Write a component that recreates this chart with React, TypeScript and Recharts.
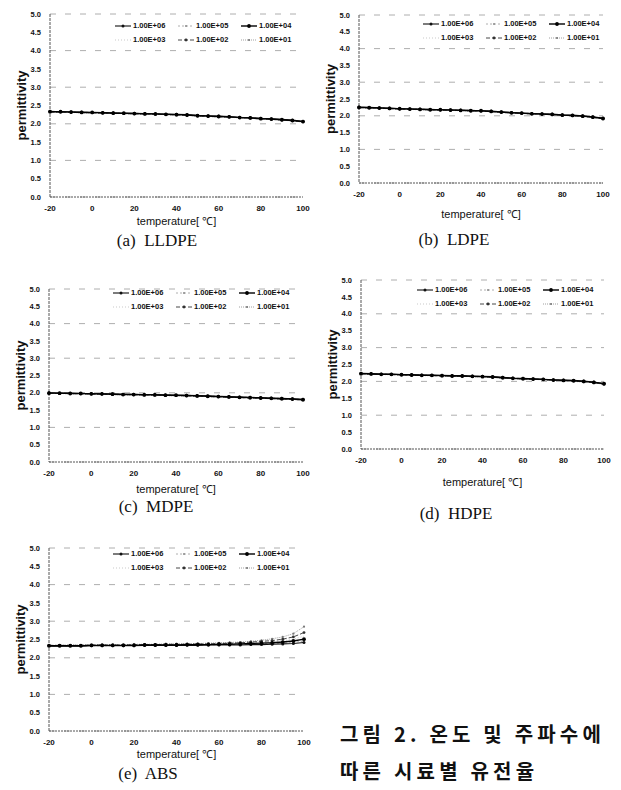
import React from "react";
import { CartesianGrid, Legend, Line, LineChart, XAxis, YAxis } from "recharts";

const temps = [-20, -15, -10, -5, 0, 5, 10, 15, 20, 25, 30, 35, 40, 45, 50, 55, 60, 65, 70, 75, 80, 85, 90, 95, 100];
const xTicks = [-20, 0, 20, 40, 60, 80, 100];
const yTicks = [0, 0.5, 1, 1.5, 2, 2.5, 3, 3.5, 4, 4.5, 5];
const freqLabels = ["1.00E+06", "1.00E+05", "1.00E+04", "1.00E+03", "1.00E+02", "1.00E+01"];

// (a) LLDPE
const lldpeE6 = [2.34, 2.33, 2.33, 2.32, 2.31, 2.31, 2.3, 2.29, 2.29, 2.28, 2.27, 2.26, 2.26, 2.25, 2.23, 2.22, 2.21, 2.2, 2.18, 2.17, 2.15, 2.14, 2.12, 2.1, 2.07];
const lldpeE5 = [2.33, 2.33, 2.32, 2.32, 2.31, 2.3, 2.3, 2.29, 2.28, 2.28, 2.27, 2.26, 2.25, 2.24, 2.23, 2.21, 2.2, 2.19, 2.18, 2.16, 2.15, 2.13, 2.11, 2.09, 2.07];
const lldpeE4 = [2.33, 2.33, 2.32, 2.31, 2.31, 2.3, 2.29, 2.29, 2.28, 2.27, 2.27, 2.26, 2.25, 2.24, 2.22, 2.21, 2.2, 2.19, 2.17, 2.16, 2.14, 2.13, 2.11, 2.09, 2.06];
const lldpeE3 = [2.33, 2.32, 2.32, 2.31, 2.3, 2.3, 2.29, 2.28, 2.28, 2.27, 2.26, 2.25, 2.25, 2.24, 2.22, 2.21, 2.2, 2.18, 2.17, 2.16, 2.14, 2.12, 2.1, 2.08, 2.06];
const lldpeE2 = [2.32, 2.32, 2.31, 2.31, 2.3, 2.29, 2.29, 2.28, 2.27, 2.27, 2.26, 2.25, 2.24, 2.23, 2.22, 2.2, 2.19, 2.18, 2.17, 2.15, 2.14, 2.12, 2.1, 2.08, 2.05];
const lldpeE1 = [2.32, 2.32, 2.31, 2.3, 2.3, 2.29, 2.28, 2.28, 2.27, 2.26, 2.26, 2.25, 2.24, 2.23, 2.21, 2.2, 2.19, 2.18, 2.16, 2.15, 2.13, 2.12, 2.1, 2.08, 2.05];

// (b) LDPE
const ldpeE6 = [2.26, 2.25, 2.24, 2.23, 2.21, 2.21, 2.2, 2.19, 2.18, 2.18, 2.17, 2.16, 2.15, 2.14, 2.12, 2.1, 2.08, 2.07, 2.06, 2.05, 2.03, 2.02, 2.0, 1.97, 1.93];
const ldpeE5 = [2.25, 2.25, 2.24, 2.22, 2.21, 2.2, 2.2, 2.19, 2.18, 2.17, 2.17, 2.16, 2.15, 2.14, 2.11, 2.1, 2.08, 2.07, 2.06, 2.04, 2.03, 2.01, 1.99, 1.96, 1.93];
const ldpeE4 = [2.25, 2.24, 2.23, 2.22, 2.21, 2.2, 2.19, 2.18, 2.18, 2.17, 2.16, 2.15, 2.15, 2.13, 2.11, 2.09, 2.08, 2.06, 2.05, 2.04, 2.02, 2.01, 1.99, 1.96, 1.92];
const ldpeE3 = [2.25, 2.24, 2.23, 2.22, 2.2, 2.2, 2.19, 2.18, 2.17, 2.17, 2.16, 2.15, 2.14, 2.13, 2.11, 2.09, 2.07, 2.06, 2.05, 2.04, 2.02, 2.0, 1.98, 1.95, 1.92];
const ldpeE2 = [2.24, 2.24, 2.23, 2.21, 2.2, 2.19, 2.19, 2.18, 2.17, 2.16, 2.16, 2.15, 2.14, 2.13, 2.1, 2.09, 2.07, 2.06, 2.05, 2.03, 2.02, 2.0, 1.98, 1.95, 1.91];
const ldpeE1 = [2.24, 2.23, 2.22, 2.21, 2.2, 2.19, 2.18, 2.17, 2.17, 2.16, 2.15, 2.14, 2.14, 2.12, 2.1, 2.08, 2.07, 2.05, 2.04, 2.03, 2.01, 2.0, 1.98, 1.95, 1.91];

// (c) MDPE
const mdpeE6 = [2.0, 1.99, 1.99, 1.98, 1.98, 1.97, 1.97, 1.96, 1.96, 1.95, 1.95, 1.94, 1.93, 1.93, 1.92, 1.91, 1.9, 1.89, 1.88, 1.87, 1.86, 1.85, 1.84, 1.83, 1.81];
const mdpeE5 = [2.0, 1.99, 1.98, 1.98, 1.97, 1.97, 1.96, 1.96, 1.95, 1.95, 1.94, 1.94, 1.93, 1.92, 1.92, 1.91, 1.9, 1.89, 1.88, 1.87, 1.86, 1.85, 1.84, 1.82, 1.81];
const mdpeE4 = [1.99, 1.99, 1.98, 1.98, 1.97, 1.97, 1.96, 1.95, 1.95, 1.94, 1.94, 1.93, 1.93, 1.92, 1.91, 1.9, 1.89, 1.88, 1.87, 1.86, 1.85, 1.84, 1.83, 1.82, 1.8];
const mdpeE3 = [1.99, 1.98, 1.98, 1.97, 1.97, 1.96, 1.96, 1.95, 1.95, 1.94, 1.93, 1.93, 1.92, 1.92, 1.91, 1.9, 1.89, 1.88, 1.87, 1.86, 1.85, 1.84, 1.83, 1.82, 1.8];
const mdpeE2 = [1.99, 1.98, 1.98, 1.97, 1.96, 1.96, 1.95, 1.95, 1.94, 1.94, 1.93, 1.92, 1.92, 1.91, 1.9, 1.89, 1.88, 1.87, 1.86, 1.85, 1.84, 1.83, 1.82, 1.81, 1.79];
const mdpeE1 = [1.98, 1.98, 1.97, 1.97, 1.96, 1.95, 1.95, 1.94, 1.94, 1.93, 1.93, 1.92, 1.91, 1.91, 1.9, 1.89, 1.88, 1.87, 1.86, 1.85, 1.84, 1.83, 1.82, 1.81, 1.79];

// (d) HDPE
const hdpeE6 = [2.24, 2.23, 2.22, 2.21, 2.2, 2.2, 2.19, 2.18, 2.18, 2.17, 2.17, 2.16, 2.15, 2.14, 2.12, 2.1, 2.09, 2.08, 2.06, 2.05, 2.04, 2.03, 2.01, 1.98, 1.94];
const hdpeE5 = [2.23, 2.23, 2.22, 2.21, 2.2, 2.19, 2.19, 2.18, 2.17, 2.17, 2.16, 2.15, 2.15, 2.13, 2.11, 2.1, 2.09, 2.07, 2.06, 2.05, 2.04, 2.02, 2.0, 1.98, 1.93];
const hdpeE4 = [2.23, 2.22, 2.21, 2.21, 2.2, 2.19, 2.18, 2.18, 2.17, 2.16, 2.16, 2.15, 2.14, 2.13, 2.11, 2.09, 2.08, 2.07, 2.06, 2.04, 2.03, 2.02, 2.0, 1.97, 1.93];
const hdpeE3 = [2.23, 2.22, 2.21, 2.2, 2.19, 2.19, 2.18, 2.17, 2.17, 2.16, 2.15, 2.15, 2.14, 2.13, 2.11, 2.09, 2.08, 2.07, 2.05, 2.04, 2.03, 2.01, 1.99, 1.97, 1.92];
const hdpeE2 = [2.22, 2.22, 2.21, 2.2, 2.19, 2.18, 2.18, 2.17, 2.16, 2.16, 2.15, 2.14, 2.14, 2.12, 2.1, 2.09, 2.07, 2.06, 2.05, 2.04, 2.02, 2.01, 1.99, 1.96, 1.92];
const hdpeE1 = [2.22, 2.21, 2.2, 2.2, 2.19, 2.18, 2.17, 2.17, 2.16, 2.15, 2.15, 2.14, 2.13, 2.12, 2.1, 2.08, 2.07, 2.06, 2.05, 2.03, 2.02, 2.0, 1.98, 1.96, 1.91];

// (e) ABS
const absE6 = [2.32, 2.32, 2.32, 2.32, 2.33, 2.33, 2.33, 2.33, 2.33, 2.34, 2.34, 2.34, 2.34, 2.34, 2.34, 2.35, 2.35, 2.35, 2.35, 2.36, 2.36, 2.37, 2.38, 2.39, 2.42];
const absE5 = [2.32, 2.32, 2.33, 2.33, 2.33, 2.33, 2.33, 2.34, 2.34, 2.34, 2.34, 2.35, 2.35, 2.35, 2.35, 2.35, 2.36, 2.36, 2.36, 2.37, 2.38, 2.39, 2.4, 2.42, 2.46];
const absE4 = [2.33, 2.33, 2.33, 2.33, 2.34, 2.34, 2.34, 2.34, 2.34, 2.35, 2.35, 2.35, 2.35, 2.36, 2.36, 2.36, 2.37, 2.37, 2.38, 2.39, 2.4, 2.41, 2.43, 2.46, 2.51];
const absE3 = [2.33, 2.33, 2.34, 2.34, 2.34, 2.34, 2.35, 2.35, 2.35, 2.35, 2.36, 2.36, 2.36, 2.37, 2.37, 2.37, 2.38, 2.39, 2.4, 2.41, 2.42, 2.44, 2.47, 2.51, 2.59];
const absE2 = [2.34, 2.34, 2.34, 2.34, 2.35, 2.35, 2.35, 2.35, 2.36, 2.36, 2.36, 2.37, 2.37, 2.37, 2.38, 2.38, 2.39, 2.4, 2.41, 2.43, 2.45, 2.47, 2.51, 2.57, 2.69];
const absE1 = [2.34, 2.34, 2.35, 2.35, 2.35, 2.36, 2.36, 2.36, 2.37, 2.37, 2.37, 2.38, 2.38, 2.39, 2.39, 2.4, 2.41, 2.42, 2.43, 2.45, 2.48, 2.52, 2.57, 2.66, 2.85];

const seriesStyles = [
  { stroke: "#111", width: 1.1, dash: undefined, dot: { r: 1.5, fill: "#111", stroke: "none" } },
  { stroke: "#999", width: 0.8, dash: "2 2", dot: { r: 1, fill: "#888", stroke: "none" } },
  { stroke: "#000", width: 1.4, dash: undefined, dot: { r: 1.9, fill: "#000", stroke: "none" } },
  { stroke: "#bbb", width: 0.8, dash: "1 2", dot: false },
  { stroke: "#333", width: 0.9, dash: "4 2", dot: { r: 1.4, fill: "#333", stroke: "none" } },
  { stroke: "#888", width: 0.8, dash: "1 1", dot: { r: 1.1, fill: "#777", stroke: "none" } }
];

const keys = ["e6", "e5", "e4", "e3", "e2", "e1"];
const drawOrder = [3, 5, 1, 4, 0, 2];

function toRows(series: number[][]) {
  return temps.map((t, i) => {
    const row: Record<string, number> = { t };
    keys.forEach((k, j) => (row[k] = series[j][i]));
    return row;
  });
}

const sans = "'Liberation Sans', Arial, sans-serif";

function LegendBox() {
  return (
    <div style={{ display: "grid", gridTemplateColumns: "repeat(3, 63px)", rowGap: 5, fontFamily: sans, fontSize: 7.5, fontWeight: 700, color: "#111" }}>
      {freqLabels.map((label, i) => {
        const s = seriesStyles[i];
        return (
          <div key={label} style={{ display: "flex", alignItems: "center", whiteSpace: "nowrap" }}>
            <svg width={16} height={6} style={{ marginRight: 2 }}>
              <line x1={0} y1={3} x2={16} y2={3} stroke={s.stroke} strokeWidth={s.width} strokeDasharray={s.dash} />
              {s.dot && <circle cx={8} cy={3} r={s.dot.r} fill={s.dot.fill} />}
            </svg>
            {label}
          </div>
        );
      })}
    </div>
  );
}

type PanelProps = {
  series: number[][];
  x: number;
  y: number;
  w: number;
  h: number;
  titleGap: number;
  legendTop: number;
  legendLeft: number;
  caption: string;
  captionX: number;
  captionY: number;
};

function Panel({ series, x, y, w, h, titleGap, legendTop, legendLeft, caption, captionX, captionY }: PanelProps) {
  const data = toRows(series);
  const top = 6;
  const xAxisH = titleGap + 12;
  return (
    <>
      <div style={{ position: "absolute", left: x - 50, top: y - top }}>
        <LineChart width={50 + w + 14} height={top + h + xAxisH} data={data} margin={{ top, right: 14, left: 0, bottom: 0 }}>
          <CartesianGrid vertical={false} stroke="#999" strokeWidth={0.8} strokeDasharray="6 9" />
          <XAxis
            dataKey="t"
            type="number"
            domain={[-20, 100]}
            ticks={xTicks}
            height={xAxisH}
            tickSize={0}
            tickMargin={8}
            axisLine={{ stroke: "#555", strokeDasharray: "2 1" }}
            tick={{ fontSize: 8, fontWeight: 700, fill: "#111", fontFamily: sans }}
            label={{ value: "temperature[ ℃]", position: "insideBottom", offset: 7, style: { fontSize: 11, fill: "#111", fontFamily: sans } }}
          />
          <YAxis
            domain={[0, 5]}
            ticks={yTicks}
            width={50}
            tickSize={0}
            tickMargin={9}
            tickFormatter={(v) => Number(v).toFixed(1)}
            axisLine={{ stroke: "#555", strokeDasharray: "3 1" }}
            tick={{ fontSize: 7.5, fontWeight: 700, fill: "#111", fontFamily: sans }}
            label={{ value: "permittivity", angle: -90, position: "insideLeft", offset: 21, style: { textAnchor: "middle", fontSize: 13, fontWeight: 700, fill: "#111", fontFamily: sans } }}
          />
          <Legend
            layout="vertical"
            align="center"
            verticalAlign="middle"
            content={() => <LegendBox />}
            wrapperStyle={{ top: legendTop - y + top, left: legendLeft - x + 50, width: 195 }}
          />
          {drawOrder.map((i) => {
            const s = seriesStyles[i];
            return (
              <Line
                key={keys[i]}
                dataKey={keys[i]}
                name={freqLabels[i]}
                stroke={s.stroke}
                strokeWidth={s.width}
                strokeDasharray={s.dash}
                dot={s.dot}
                isAnimationActive={false}
              />
            );
          })}
        </LineChart>
      </div>
      <div style={{ position: "absolute", left: captionX - 60, width: 120, top: captionY - 11, textAlign: "center", fontFamily: "'Liberation Serif', serif", fontSize: 17, color: "#111", whiteSpace: "pre" }}>
        {caption}
      </div>
    </>
  );
}

export default function App() {
  const koStyle: React.CSSProperties = {
    position: "absolute",
    left: 340,
    fontFamily: "'Noto Sans CJK KR', sans-serif",
    fontWeight: 700,
    fontSize: 20,
    letterSpacing: 4.2,
    color: "#111",
    whiteSpace: "pre",
    lineHeight: 1
  };
  return (
    <div style={{ position: "absolute", left: 0, top: 0, width: 621, height: 790, background: "#fff", overflow: "hidden" }}>
      <Panel series={[lldpeE6, lldpeE5, lldpeE4, lldpeE3, lldpeE2, lldpeE1]} x={50} y={14} w={253} h={183} titleGap={23} legendTop={21} legendLeft={115} caption="(a)  LLDPE" captionX={157} captionY={242} />
      <Panel series={[ldpeE6, ldpeE5, ldpeE4, ldpeE3, ldpeE2, ldpeE1]} x={359} y={15} w={244} h={168} titleGap={30} legendTop={19} legendLeft={423} caption="(b)  LDPE" captionX={454} captionY={241} />
      <Panel series={[mdpeE6, mdpeE5, mdpeE4, mdpeE3, mdpeE2, mdpeE1]} x={49} y={289} w={254} h={173} titleGap={26} legendTop={288} legendLeft={113} caption="(c)  MDPE" captionX={156} captionY={508} />
      <Panel series={[hdpeE6, hdpeE5, hdpeE4, hdpeE3, hdpeE2, hdpeE1]} x={361} y={280} w={243} h={169} titleGap={32} legendTop={285} legendLeft={417} caption="(d)  HDPE" captionX={456} captionY={515} />
      <Panel series={[absE6, absE5, absE4, absE3, absE2, absE1]} x={49} y={548} w={255} h={183} titleGap={22} legendTop={549} legendLeft={113} caption="(e)  ABS" captionX={148} captionY={775} />
      <div style={{ ...koStyle, top: 724 }}>그림 2. 온도 및 주파수에</div>
      <div style={{ ...koStyle, top: 761 }}>따른 시료별 유전율</div>
    </div>
  );
}
